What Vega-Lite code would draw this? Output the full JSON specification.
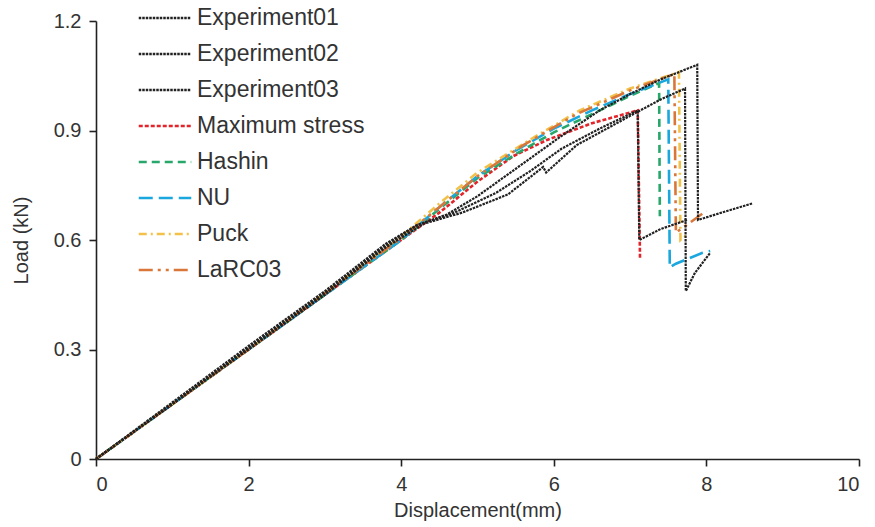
{
  "$schema": "https://vega.github.io/schema/vega-lite/v6.json",
  "width": 763,
  "height": 438,
  "autosize": {"type": "none"},
  "padding": {"left": 96, "top": 21, "right": 16, "bottom": 68},
  "background": "white",
  "config": {
    "view": {"stroke": null},
    "font": "Liberation Sans"
  },
  "datasets": {
    "models": [
      {"series": "Maximum stress", "x": 0, "y": 0}, {"series": "Maximum stress", "x": 2, "y": 0.3}, {"series": "Maximum stress", "x": 4, "y": 0.6}, {"series": "Maximum stress", "x": 4.5, "y": 0.675}, {"series": "Maximum stress", "x": 5.0, "y": 0.76}, {"series": "Maximum stress", "x": 5.47, "y": 0.83}, {"series": "Maximum stress", "x": 5.91, "y": 0.874}, {"series": "Maximum stress", "x": 6.5, "y": 0.92}, {"series": "Maximum stress", "x": 7.1, "y": 0.955}, {"series": "Maximum stress", "x": 7.13, "y": 0.55},
      {"series": "Hashin", "x": 0, "y": 0}, {"series": "Hashin", "x": 2, "y": 0.3}, {"series": "Hashin", "x": 4, "y": 0.6}, {"series": "Hashin", "x": 4.5, "y": 0.685}, {"series": "Hashin", "x": 5.0, "y": 0.77}, {"series": "Hashin", "x": 5.5, "y": 0.835}, {"series": "Hashin", "x": 6.0, "y": 0.895}, {"series": "Hashin", "x": 6.5, "y": 0.945}, {"series": "Hashin", "x": 7.0, "y": 0.995}, {"series": "Hashin", "x": 7.38, "y": 1.03}, {"series": "Hashin", "x": 7.39, "y": 0.665},
      {"series": "NU", "x": 0, "y": 0}, {"series": "NU", "x": 2, "y": 0.3}, {"series": "NU", "x": 4, "y": 0.6}, {"series": "NU", "x": 4.5, "y": 0.69}, {"series": "NU", "x": 5.0, "y": 0.775}, {"series": "NU", "x": 5.5, "y": 0.845}, {"series": "NU", "x": 6.0, "y": 0.905}, {"series": "NU", "x": 6.5, "y": 0.955}, {"series": "NU", "x": 7.0, "y": 1.0}, {"series": "NU", "x": 7.5, "y": 1.04}, {"series": "NU", "x": 7.52, "y": 0.525}, {"series": "NU", "x": 7.6, "y": 0.535}, {"series": "NU", "x": 7.95, "y": 0.565}, {"series": "NU", "x": 8.05, "y": 0.57},
      {"series": "Puck", "x": 0, "y": 0}, {"series": "Puck", "x": 2, "y": 0.3}, {"series": "Puck", "x": 4, "y": 0.61}, {"series": "Puck", "x": 4.5, "y": 0.7}, {"series": "Puck", "x": 5.0, "y": 0.785}, {"series": "Puck", "x": 5.69, "y": 0.875}, {"series": "Puck", "x": 6.34, "y": 0.955}, {"series": "Puck", "x": 7.0, "y": 1.015}, {"series": "Puck", "x": 7.64, "y": 1.06}, {"series": "Puck", "x": 7.66, "y": 0.6}, {"series": "Puck", "x": 7.75, "y": 0.615},
      {"series": "LaRC03", "x": 0, "y": 0}, {"series": "LaRC03", "x": 2, "y": 0.3}, {"series": "LaRC03", "x": 4, "y": 0.605}, {"series": "LaRC03", "x": 4.5, "y": 0.69}, {"series": "LaRC03", "x": 5.0, "y": 0.775}, {"series": "LaRC03", "x": 5.6, "y": 0.86}, {"series": "LaRC03", "x": 6.3, "y": 0.945}, {"series": "LaRC03", "x": 7.0, "y": 1.01}, {"series": "LaRC03", "x": 7.58, "y": 1.055}, {"series": "LaRC03", "x": 7.6, "y": 0.62}, {"series": "LaRC03", "x": 8.0, "y": 0.68}
    ],
    "experiments": [
      {"series": "Experiment01", "x": 0, "y": 0}, {"series": "Experiment01", "x": 1, "y": 0.155}, {"series": "Experiment01", "x": 2, "y": 0.31}, {"series": "Experiment01", "x": 3, "y": 0.46}, {"series": "Experiment01", "x": 3.8, "y": 0.59}, {"series": "Experiment01", "x": 4.2, "y": 0.64}, {"series": "Experiment01", "x": 4.6, "y": 0.67}, {"series": "Experiment01", "x": 5.0, "y": 0.72}, {"series": "Experiment01", "x": 5.6, "y": 0.81}, {"series": "Experiment01", "x": 6.1, "y": 0.885}, {"series": "Experiment01", "x": 6.6, "y": 0.955}, {"series": "Experiment01", "x": 7.0, "y": 1.0}, {"series": "Experiment01", "x": 7.4, "y": 1.04}, {"series": "Experiment01", "x": 7.88, "y": 1.08}, {"series": "Experiment01", "x": 7.89, "y": 0.655}, {"series": "Experiment01", "x": 8.2, "y": 0.675}, {"series": "Experiment01", "x": 8.6, "y": 0.7},
      {"series": "Experiment02", "x": 0, "y": 0}, {"series": "Experiment02", "x": 1, "y": 0.15}, {"series": "Experiment02", "x": 2, "y": 0.305}, {"series": "Experiment02", "x": 3, "y": 0.455}, {"series": "Experiment02", "x": 3.8, "y": 0.585}, {"series": "Experiment02", "x": 4.2, "y": 0.64}, {"series": "Experiment02", "x": 4.7, "y": 0.675}, {"series": "Experiment02", "x": 5.25, "y": 0.73}, {"series": "Experiment02", "x": 5.7, "y": 0.79}, {"series": "Experiment02", "x": 6.1, "y": 0.85}, {"series": "Experiment02", "x": 6.6, "y": 0.905}, {"series": "Experiment02", "x": 7.1, "y": 0.955}, {"series": "Experiment02", "x": 7.12, "y": 0.6}, {"series": "Experiment02", "x": 7.4, "y": 0.63}, {"series": "Experiment02", "x": 7.75, "y": 0.655},
      {"series": "Experiment03", "x": 0, "y": 0}, {"series": "Experiment03", "x": 1, "y": 0.15}, {"series": "Experiment03", "x": 2, "y": 0.3}, {"series": "Experiment03", "x": 3, "y": 0.45}, {"series": "Experiment03", "x": 3.8, "y": 0.58}, {"series": "Experiment03", "x": 4.3, "y": 0.645}, {"series": "Experiment03", "x": 4.8, "y": 0.675}, {"series": "Experiment03", "x": 5.4, "y": 0.725}, {"series": "Experiment03", "x": 5.86, "y": 0.8}, {"series": "Experiment03", "x": 5.9, "y": 0.785}, {"series": "Experiment03", "x": 6.3, "y": 0.86}, {"series": "Experiment03", "x": 6.65, "y": 0.9}, {"series": "Experiment03", "x": 7.0, "y": 0.94}, {"series": "Experiment03", "x": 7.4, "y": 0.985}, {"series": "Experiment03", "x": 7.72, "y": 1.015}, {"series": "Experiment03", "x": 7.73, "y": 0.46}, {"series": "Experiment03", "x": 7.85, "y": 0.51}, {"series": "Experiment03", "x": 8.05, "y": 0.565}
    ]
  },
  "encoding": {
    "x": {"field": "x", "type": "quantitative", "scale": {"domain": [0, 10], "nice": false},
      "axis": {"values": [0, 2, 4, 6, 8, 10], "format": "d", "title": "Displacement(mm)", "grid": false, "domainColor": "#222", "tickColor": "#222", "domainWidth": 1.6, "tickWidth": 1.6, "tickSize": 7, "labelFont": "Liberation Sans", "labelFontSize": 20, "labelColor": "#333", "labelPadding": 8, "titleFont": "Liberation Sans", "titleFontSize": 20, "titleFontWeight": "normal", "titleColor": "#333", "titlePadding": 6}},
    "y": {"field": "y", "type": "quantitative", "scale": {"domain": [0, 1.2], "nice": false},
      "axis": {"values": [0, 0.3, 0.6, 0.9, 1.2], "format": ".1~f", "title": "Load (kN)", "grid": false, "domainColor": "#222", "tickColor": "#222", "domainWidth": 1.6, "tickWidth": 1.6, "tickSize": 7, "labelFont": "Liberation Sans", "labelFontSize": 20, "labelColor": "#333", "labelPadding": 8, "titleFont": "Liberation Sans", "titleFontSize": 20, "titleFontWeight": "normal", "titleColor": "#333", "titlePadding": 22}},
    "color": {"field": "series", "type": "nominal", "scale": {"domain": ["Experiment01", "Experiment02", "Experiment03", "Maximum stress", "Hashin", "NU", "Puck", "LaRC03"], "range": ["#222222", "#222222", "#222222", "#E3242B", "#27A76A", "#1AA7DE", "#F2C14A", "#D9773A"]},
      "legend": {"title": null, "orient": "none", "legendX": 57, "legendY": -15, "padding": 0, "symbolType": "M-2.5,0L2.5,0", "symbolSize": 441, "symbolStrokeWidth": 2.5, "symbolFillColor": "transparent", "labelOffset": 20, "labelFontSize": 23, "labelFont": "Liberation Sans", "labelColor": "#333", "rowPadding": 12, "labelLimit": 300}},
    "strokeDash": {"field": "series", "type": "nominal", "scale": {"domain": ["Experiment01", "Experiment02", "Experiment03", "Maximum stress", "Hashin", "NU", "Puck", "LaRC03"], "range": [[2.5, 1], [2.5, 1], [2.5, 1], [4, 2], [8, 5], [14, 6], [8, 4, 2, 4], [14, 5, 3, 5, 3, 5]]}, "legend": null}
  },
  "layer": [
    {"data": {"name": "models"}, "mark": {"type": "line", "strokeWidth": 2.6}},
    {"data": {"name": "experiments"}, "mark": {"type": "line", "strokeWidth": 2.2}}
  ]
}
